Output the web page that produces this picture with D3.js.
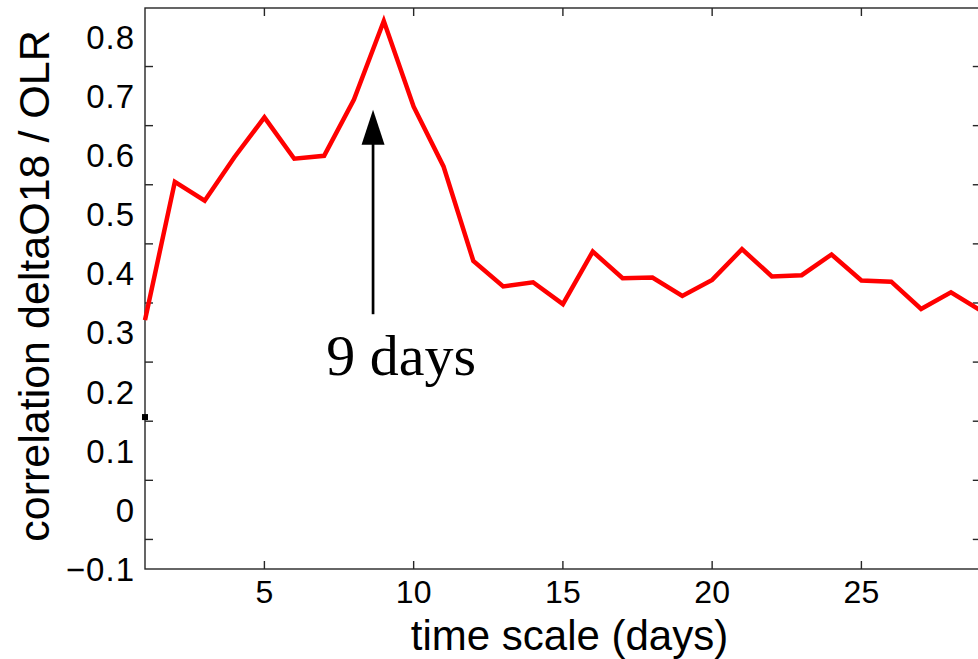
<!DOCTYPE html>
<html>
<head>
<meta charset="utf-8">
<script src="https://cdn.jsdelivr.net/npm/d3@7"></script>
<style>
  html, body { margin: 0; padding: 0; background: #fff; }
  svg { display: block; }
</style>
</head>
<body>
<script>
// ---- data ----
const days = [1,2,3,4,5,6,7,8,9,10,11,12,13,14,15,16,17,18,19,20,21,22,23,24,25,26,27,28,29];
const correlation = [0.321,0.555,0.523,0.597,0.664,0.594,0.599,0.694,0.827,0.682,0.581,0.421,0.378,0.385,0.348,0.437,0.392,0.393,0.362,0.389,0.441,0.395,0.397,0.432,0.388,0.386,0.340,0.368,0.337];
const xTicks = [5,10,15,20,25];
const yTickMarks = [-0.05,0.05,0.15,0.25,0.35,0.45,0.55,0.65,0.75];
const yLabelValues = [-0.1,0,0.1,0.2,0.3,0.4,0.5,0.6,0.7,0.8];
const yLabelText = ["\u22120.1","0","0.1","0.2","0.3","0.4","0.5","0.6","0.7","0.8"];
const marker = {day: 1, value: 0.157};
const arrow = {day: 8.64, from: 0.331, to: 0.677};
const annotation = {day: 9.58, value: 0.228, text: "9 days"};
const xTitle = "time scale (days)";
const yTitle = "correlation deltaO18 / OLR";

// ---- layout ----
const W = 978, H = 659;
const mLeft = 145, mTop = 8, mBottom = 569, mRight = 980.8;
const tickLen = 8;
const axisColor = "#262626";

const svg = d3.select("body").append("svg").attr("width", W).attr("height", H);

const x = d3.scaleLinear().domain([1, 29]).range([mLeft, mRight]);
const y = d3.scaleLinear().domain([-0.1, 0.849]).range([mBottom, mTop]);

// frame
const frame = svg.append("g").attr("stroke", axisColor).attr("stroke-width", 1.4).attr("fill", "none");
frame.append("rect").attr("x", mLeft).attr("y", mTop).attr("width", mRight - mLeft).attr("height", mBottom - mTop);

// bottom/top ticks
xTicks.forEach(t => {
  frame.append("line").attr("x1", x(t)).attr("x2", x(t)).attr("y1", mBottom).attr("y2", mBottom - tickLen);
  frame.append("line").attr("x1", x(t)).attr("x2", x(t)).attr("y1", mTop).attr("y2", mTop + tickLen);
});
// left/right ticks
yTickMarks.forEach(t => {
  frame.append("line").attr("x1", mLeft).attr("x2", mLeft + tickLen).attr("y1", y(t)).attr("y2", y(t));
  frame.append("line").attr("x1", mRight).attr("x2", mRight - tickLen).attr("y1", y(t)).attr("y2", y(t));
});

// x tick labels
svg.append("g").selectAll("text").data(xTicks).join("text")
  .attr("x", d => x(d)).attr("y", 603)
  .attr("text-anchor", "middle")
  .attr("font-family", "Liberation Sans, Arial, sans-serif")
  .attr("font-size", 32).attr("fill", "#000")
  .text(d => d);

// y tick labels
svg.append("g").selectAll("text").data(yLabelValues).join("text")
  .attr("x", 135).attr("y", d => y(d))
  .attr("dy", "0.36em")
  .attr("text-anchor", "end")
  .attr("font-family", "Liberation Sans, Arial, sans-serif")
  .attr("font-size", 33).attr("fill", "#000")
  .attr("letter-spacing", 1)
  .text((d, i) => yLabelText[i]);

// axis titles
svg.append("text")
  .attr("x", (mLeft + 978) / 2 + 8).attr("y", 650)
  .attr("text-anchor", "middle")
  .attr("font-family", "Liberation Sans, Arial, sans-serif")
  .attr("font-size", 42).attr("fill", "#000")
  .text(xTitle);

svg.append("text")
  .attr("transform", "translate(49," + 286 + ") rotate(-90)")
  .attr("text-anchor", "middle")
  .attr("font-family", "Liberation Sans, Arial, sans-serif")
  .attr("font-size", 43).attr("fill", "#000")
  .text(yTitle);

// red line
const line = d3.line().x((d, i) => x(days[i])).y(d => y(d));
svg.append("path")
  .datum(correlation)
  .attr("d", line)
  .attr("fill", "none")
  .attr("stroke", "#ff0000")
  .attr("stroke-width", 4.5)
  .attr("stroke-linejoin", "miter")
  .attr("stroke-miterlimit", 10);

// small black marker
svg.append("rect")
  .attr("x", x(marker.day) - 3).attr("y", y(marker.value) - 3)
  .attr("width", 6).attr("height", 6)
  .attr("fill", "#000");

// arrow
const ax = x(arrow.day), ay0 = y(arrow.from), ay1 = y(arrow.to);
const headLen = 35, headHalf = 11.5;
svg.append("line")
  .attr("x1", ax).attr("x2", ax).attr("y1", ay0).attr("y2", ay1 + headLen - 2)
  .attr("stroke", "#000").attr("stroke-width", 2.7);
svg.append("path")
  .attr("d", d3.line()([[ax, ay1], [ax - headHalf, ay1 + headLen], [ax + headHalf, ay1 + headLen]]) + "Z")
  .attr("fill", "#000");

// annotation
svg.append("text")
  .attr("x", x(annotation.day)).attr("y", y(annotation.value))
  .attr("text-anchor", "middle")
  .attr("font-family", "Liberation Serif, Times New Roman, serif")
  .attr("font-size", 58).attr("fill", "#000")
  .text(annotation.text);
</script>
</body>
</html>
